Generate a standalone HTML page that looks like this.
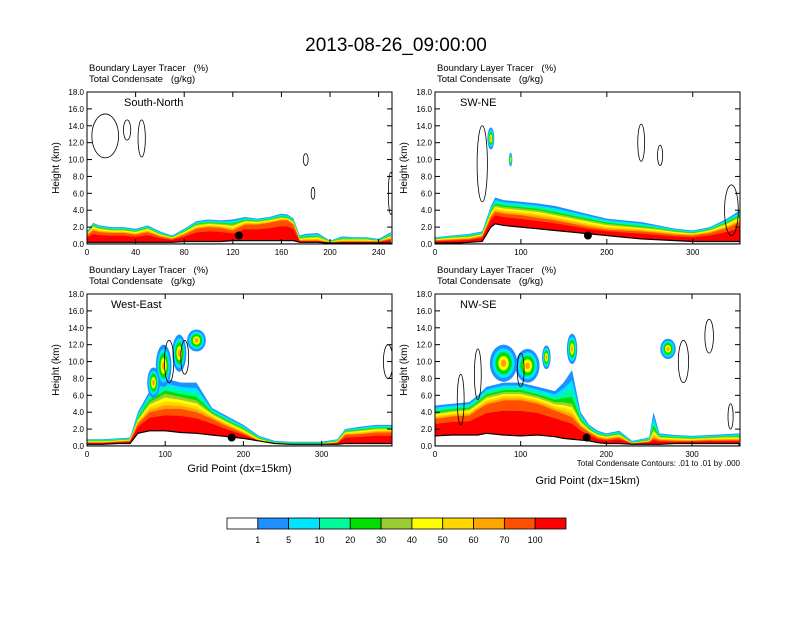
<!DOCTYPE html>
<html><head><meta charset="utf-8"><style>
body{margin:0;background:#fff;font-family:"Liberation Sans",sans-serif}
svg text{font-family:"Liberation Sans",sans-serif;white-space:pre}
</style></head><body>
<svg id="chart" width="792" height="612" viewBox="0 0 792 612" xmlns="http://www.w3.org/2000/svg">
<text x="396" y="51" font-size="19" text-anchor="middle">2013-08-26_09:00:00</text>
<g id="panels"></g>
<g id="colorbar"></g>
</svg>
<script>
// ---- data ----
const colorbarLabels = ["1","5","10","20","30","40","50","60","70","100"];
const colors = ["#ffffff","#1e90ff","#00e5ff","#00fa9a","#00e000","#9acd32","#ffff00","#ffd700","#ffa500","#ff5000","#ff0000"];

const p1x = [0,5,10,20,30,40,50,60,70,80,90,100,110,120,130,140,150,160,165,170,175,180,190,200,210,220,230,240,250];
const p1h1 = [1.5,2.5,2.2,2.0,2.0,1.8,2.2,1.5,1.0,1.8,2.7,2.9,2.8,2.9,3.2,3.0,3.2,3.6,3.5,3.0,1.0,1.2,1.3,0.4,0.9,0.8,0.8,0.6,1.4];
const p1h30 = [1.2,2.2,1.9,1.7,1.7,1.5,1.9,1.2,0.8,1.5,2.3,2.5,2.4,2.3,2.8,2.7,2.9,3.2,3.1,2.7,0.7,0.8,0.9,0.3,0.6,0.6,0.6,0.4,1.0];
const p1h70 = [1.0,1.6,1.4,1.3,1.3,1.1,1.4,0.9,0.6,1.1,1.8,2.0,1.9,1.6,2.3,2.3,2.5,2.8,2.8,2.3,0.4,0.4,0.4,0.2,0.3,0.3,0.3,0.3,0.6];
const p1t = [0.2,0.2,0.2,0.2,0.2,0.2,0.2,0.2,0.2,0.3,0.3,0.3,0.3,0.4,0.4,0.4,0.4,0.4,0.4,0.4,0.2,0.2,0.2,0.1,0.1,0.1,0.1,0.1,0.1];
const p1blobs = [];
const p1clouds = [[15,12.8,11,2.6],[33,13.5,3,1.2],[45,12.5,3,2.2],[180,10.0,2,0.7],[186,6.0,1.5,0.7],[250,6,2,2.5]];

const p2x = [0,20,40,55,65,70,80,100,120,140,160,180,200,220,240,260,280,300,320,340,355];
const p2h1 = [0.8,1.0,1.2,1.5,4.5,5.5,5.2,5.0,4.8,4.5,4.0,3.5,3.0,2.8,2.6,2.2,1.8,1.6,2.0,3.0,4.0];
const p2h30 = [0.6,0.8,0.9,1.2,3.8,4.6,4.4,4.2,4.0,3.6,3.2,2.8,2.4,2.2,2.0,1.8,1.5,1.3,1.7,2.5,3.3];
const p2h70 = [0.4,0.5,0.6,0.9,3.2,3.8,3.6,3.4,3.1,2.8,2.4,2.0,1.7,1.6,1.5,1.3,1.1,1.0,1.3,1.9,2.6];
const p2t = [0.1,0.1,0.2,0.3,2.0,2.4,2.2,2.0,1.8,1.6,1.4,1.2,1.0,0.8,0.6,0.5,0.4,0.3,0.3,0.3,0.3];
const p2blobs = [[65,12.5,4,1.3],[88,10.0,2,0.8]];
const p2clouds = [[55,9.5,6,4.5],[240,12.0,4,2.2],[262,10.5,3,1.2],[345,4,8,3]];

const p3x = [0,20,40,55,65,80,100,120,140,160,180,200,220,240,260,280,300,320,330,350,370,390];
const p3h1 = [0.8,0.8,0.9,1.0,4.0,6.5,8.0,7.5,7.5,4.5,3.5,2.5,1.2,0.6,0.5,0.5,0.5,0.8,2.0,2.3,2.5,2.5];
const p3h30 = [0.6,0.6,0.7,0.8,3.2,5.2,6.2,5.8,5.4,3.9,2.9,2.0,0.9,0.4,0.3,0.3,0.3,0.6,1.7,1.9,2.1,2.1];
const p3h70 = [0.4,0.4,0.5,0.6,2.6,4.0,4.4,4.4,4.0,3.2,2.3,1.5,0.6,0.3,0.2,0.2,0.2,0.4,1.3,1.4,1.6,1.6];
const p3t = [0.2,0.2,0.3,0.3,1.5,1.8,1.8,1.6,1.5,1.3,1.1,0.9,0.6,0.3,0.2,0.2,0.2,0.2,0.3,0.3,0.3,0.3];
const p3blobs = [[98,9.5,10,2.5],[118,11,9,2.2],[140,12.5,12,1.3],[85,7.5,8,1.8]];
const p3clouds = [[105,10,6,2.5],[125,10.5,5,2],[385,10,6,2]];

const p4x = [0,20,40,50,60,80,100,120,140,150,160,170,180,190,200,215,230,250,255,262,280,300,320,340,355];
const p4h1 = [4.8,5.0,5.2,6.0,7.0,7.5,7.5,7.0,6.5,7.5,9.0,4.0,2.5,1.8,1.5,1.8,0.6,1.0,4.0,1.5,1.3,1.2,1.3,1.4,1.5];
const p4h30 = [3.9,4.2,4.4,5.1,5.9,6.4,6.4,5.9,5.2,5.2,5.0,3.0,2.0,1.4,1.2,1.4,0.4,0.7,2.0,1.1,1.0,0.9,1.0,1.1,1.1];
const p4h70 = [3.2,3.5,3.6,4.3,4.9,5.4,5.4,5.0,4.2,3.8,3.4,2.3,1.6,1.0,0.8,1.0,0.3,0.5,0.9,0.7,0.6,0.6,0.7,0.7,0.7];
const p4t = [1.2,1.3,1.3,1.3,1.5,1.3,1.2,1.3,1.1,0.9,0.8,0.7,0.6,0.4,0.3,0.3,0.2,0.2,0.2,0.2,0.3,0.3,0.3,0.3,0.3];
const p4blobs = [[80,9.8,16,2.2],[108,9.5,14,2.0],[130,10.5,5,1.4],[160,11.5,6,1.8],[272,11.5,9,1.2]];
const p4clouds = [[30,5.5,4,3],[50,8.5,4,3],[100,9,4,2],[290,10,6,2.5],[320,13,5,2],[345,3.5,3,1.5]];

const yTicks = [0,2,4,6,8,10,12,14,16,18];
const p1xTicks = [0,40,80,120,160,200,240];
const p234xTicks = [0,100,200,300];

const panels = [
 {name:"South-North",x0:87,y0:92,xmax:251,xs:p1x,h1:p1h1,h30:p1h30,h70:p1h70,t:p1t,blobs:p1blobs,clouds:p1clouds,xt:p1xTicks,dot:[125,1.0],xl:false},
 {name:"SW-NE",x0:435,y0:92,xmax:355,xs:p2x,h1:p2h1,h30:p2h30,h70:p2h70,t:p2t,blobs:p2blobs,clouds:p2clouds,xt:p234xTicks,dot:[178,1.0],xl:false},
 {name:"West-East",x0:87,y0:294,xmax:390,xs:p3x,h1:p3h1,h30:p3h30,h70:p3h70,t:p3t,blobs:p3blobs,clouds:p3clouds,xt:p234xTicks,dot:[185,1.0],xl:true},
 {name:"NW-SE",x0:435,y0:294,xmax:356,xs:p4x,h1:p4h1,h30:p4h30,h70:p4h70,t:p4t,blobs:p4blobs,clouds:p4clouds,xt:p234xTicks,dot:[177,1.0],xl:true}
];
const NS="http://www.w3.org/2000/svg";
function mk(tag,attrs,parent){const e=document.createElementNS(NS,tag);for(const k in attrs)e.setAttribute(k,attrs[k]);parent.appendChild(e);return e;}
const root=document.getElementById('panels');
const W=305,H=152;
panels.forEach((p,pi)=>{
  const g=mk('g',{},root);
  
  
  const sx=v=>p.x0+v/p.xmax*W, sy=v=>p.y0+H-v/18*H;
  const clipId='clip'+pi;
  const cp=mk('clipPath',{id:clipId},g);mk('rect',{x:p.x0,y:p.y0,width:W,height:H},cp);
  const plot=mk('g',{'clip-path':'url(#'+clipId+')'},g);
  const lvl=(i,k)=>{const a=p.h1[i],b=p.h30[i],c=p.h70[i],t=p.t[i];
    const L=[a,a-0.3*(a-b),a-0.55*(a-b),a-0.8*(a-b),b,b-0.25*(b-c),b-0.5*(b-c),b-0.75*(b-c),c,c-0.3*(c-t)];return L[k];};
  for(let k=0;k<10;k++){
    let d='M'+sx(p.xs[0])+','+sy(0);
    p.xs.forEach((x,i)=>{d+=' L'+sx(x)+','+sy(lvl(i,k));});
    d+=' L'+sx(p.xs[p.xs.length-1])+','+sy(0)+' Z';
    const e=mk('path',{d:d,fill:colors[k+1]},plot);
    
    
  }
  p.blobs.forEach(b=>{
    [[1,1],[0.8,2],[0.6,4],[0.38,6],[0.2,8]].forEach(([f,ci])=>{
      const e=mk('ellipse',{cx:sx(b[0]),cy:sy(b[1]),rx:b[2]/p.xmax*W*f,ry:b[3]/18*H*f,fill:colors[ci]},plot);
      
      
    });
  });
  p.clouds.forEach(c=>{
    const e=mk('ellipse',{cx:sx(c[0]),cy:sy(c[1]),rx:c[2]/p.xmax*W,ry:c[3]/18*H,fill:'none',stroke:'#000','stroke-width':0.8},plot);
    
    
  });
  let d='M'+sx(p.xs[0])+','+sy(0);
  p.xs.forEach((x,i)=>{d+=' L'+sx(x)+','+sy(p.t[i]);});
  d+=' L'+sx(p.xs[p.xs.length-1])+','+sy(0)+' Z';
  const tr=mk('path',{d:d,fill:'#fff',stroke:'#000','stroke-width':1.2},plot);
  
  
  const dot=mk('circle',{cx:sx(p.dot[0]),cy:sy(p.dot[1]),r:4,fill:'#000'},plot);
  
  
  const fr=mk('rect',{x:p.x0,y:p.y0,width:W,height:H,fill:'none',stroke:'#000','stroke-width':1},g);
  
  
  yTicks.forEach(v=>{
    mk('line',{x1:p.x0,x2:p.x0+5,y1:sy(v),y2:sy(v),stroke:'#000'},g);
    mk('line',{x1:p.x0+W,x2:p.x0+W-5,y1:sy(v),y2:sy(v),stroke:'#000'},g);
    const t=mk('text',{x:p.x0-3,y:sy(v)+3,'font-size':8,'text-anchor':'end'},g);t.textContent=v.toFixed(1);
    
    
  });
  p.xt.forEach(v=>{
    mk('line',{x1:sx(v),x2:sx(v),y1:p.y0+H,y2:p.y0+H-5,stroke:'#000'},g);
    mk('line',{x1:sx(v),x2:sx(v),y1:p.y0,y2:p.y0+5,stroke:'#000'},g);
    const t=mk('text',{x:sx(v),y:p.y0+H+11,'font-size':8,'text-anchor':'middle'},g);t.textContent=v;
    
    
  });
  const yl=mk('text',{x:0,y:0,'font-size':10,'text-anchor':'middle',transform:'translate('+(p.x0-28)+','+(p.y0+H/2)+') rotate(-90)'},g);
  yl.textContent='Height (km)';
  
  
  const s1=mk('text',{x:p.x0+2,y:p.y0-21,'font-size':9.5},g);s1.textContent='Boundary Layer Tracer   (%)';
  
  
  const s2=mk('text',{x:p.x0+2,y:p.y0-10,'font-size':9.5},g);s2.textContent='Total Condensate   (g/kg)';
  
  
  const nm=mk('text',{x:p.x0+(pi==0?37:pi==2?24:25),y:p.y0+14,'font-size':11},g);nm.textContent=p.name;
  
  
  if(p.xl){
    const xl=mk('text',{x:p.x0+W/2,y:p.y0+H+(pi==3?38:26),'font-size':11,'text-anchor':'middle'},g);xl.textContent='Grid Point (dx=15km)';
    
    
  }
  if(pi==3){
    const ct=mk('text',{x:p.x0+W,y:p.y0+H+20,'font-size':8,'text-anchor':'end'},g);ct.textContent='Total Condensate Contours: .01 to .01 by .000';
    
    
  }
});
const cb=document.getElementById('colorbar');
const cbx=227,cbw=339,cby=518,cbh=11,bw=cbw/colors.length;
colors.forEach((c,i)=>{
  const r=mk('rect',{x:cbx+i*bw,y:cby,width:bw,height:cbh,fill:c,stroke:'#000','stroke-width':0.8},cb);
  
  
});
colorbarLabels.forEach((l,i)=>{
  const t=mk('text',{x:cbx+(i+1)*bw,y:cby+cbh+14,'font-size':9,'text-anchor':'middle'},cb);t.textContent=l;
  
  
});
</script>
</body></html>
